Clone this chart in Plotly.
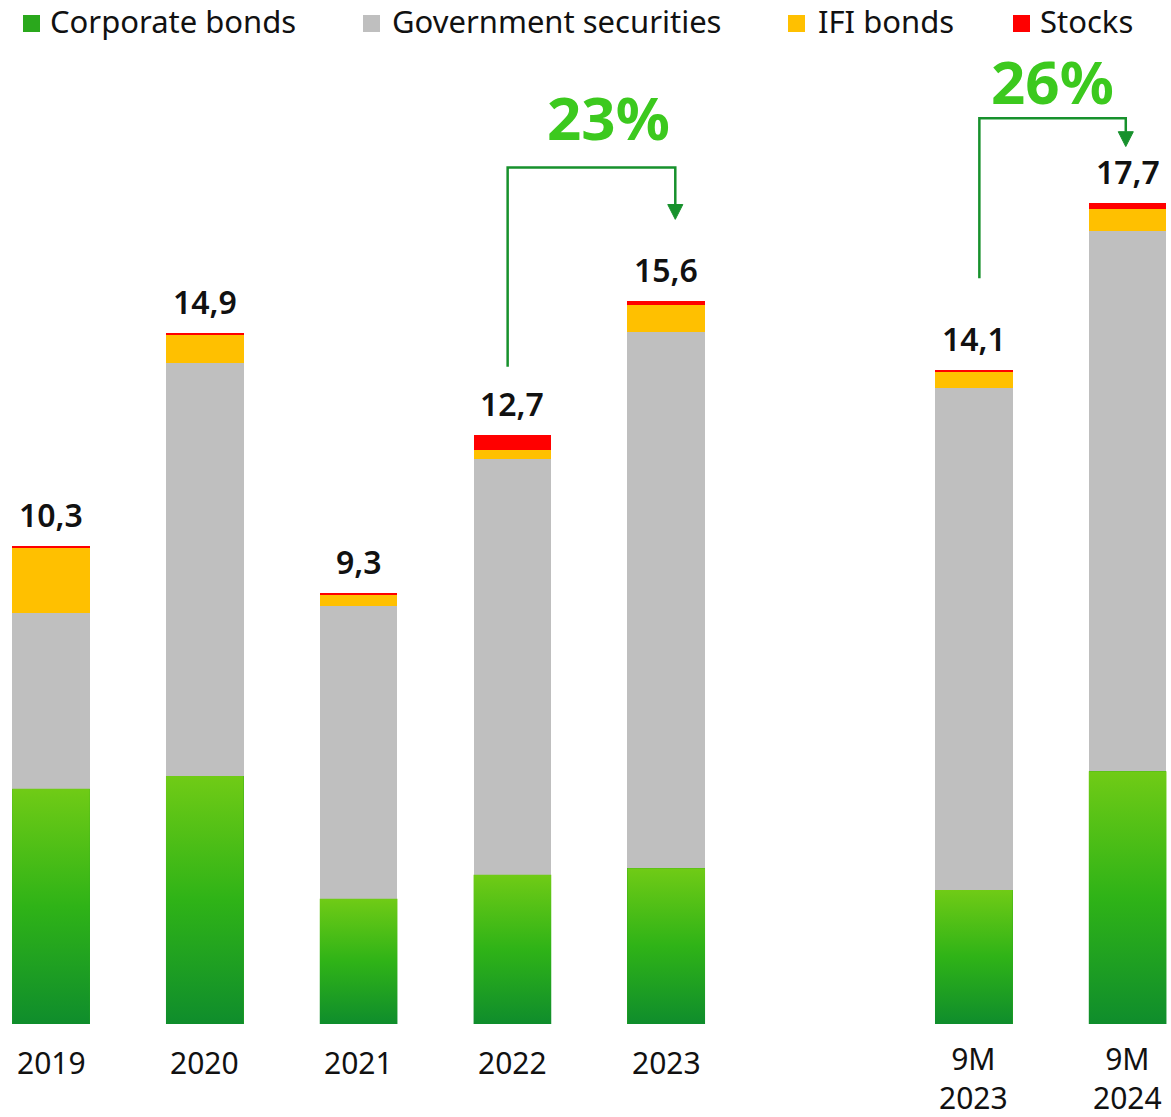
import plotly.graph_objects as go

# ---- data (trillion, stacked by instrument type) ----
categories = ["2019", "2020", "2021", "2022", "2023", "9M<br>2023", "9M<br>2024"]
positions = [0, 1, 2, 3, 4, 6, 7]
corporate_bonds = [5.07, 5.35, 2.70, 3.22, 3.36, 2.89, 5.45]
government_securities = [3.79, 8.90, 6.31, 8.97, 11.57, 10.83, 11.65]
ifi_bonds = [1.41, 0.62, 0.25, 0.19, 0.58, 0.34, 0.47]
stocks = [0.03, 0.03, 0.04, 0.32, 0.09, 0.04, 0.13]

series_names = ["Corporate bonds", "Government securities", "IFI bonds", "Stocks"]
series_colors = ["#2aa81c", "#bfbfbf", "#ffc000", "#ff0000"]
green_scale = [[0.0, "#0f8d2c"], [0.5, "#2fb317"], [1.0, "#70cb16"]]

# growth brackets: (from index, to index)
growth_pairs = [(3, 4), (5, 6)]

FONT = "Noto Sans"
BAR_W = 0.505

totals = [round(a + b + c + d, 2) for a, b, c, d in
          zip(corporate_bonds, government_securities, ifi_bonds, stocks)]

fig = go.Figure()
for name, vals, col in zip(series_names,
                           [corporate_bonds, government_securities, ifi_bonds, stocks],
                           series_colors):
    fig.add_trace(go.Bar(x=positions, y=vals, name=name, width=BAR_W,
                         marker=dict(color=col, line=dict(width=0)),
                         showlegend=False))

# gradient overlay for the corporate bond segments
for p, v in zip(positions, corporate_bonds):
    x0, x1 = p - BAR_W / 2, p + BAR_W / 2
    fig.add_trace(go.Scatter(
        x=[x0, x1, x1, x0, x0], y=[0, 0, v, v, 0], mode="lines",
        fill="toself", line=dict(width=0, color="rgba(0,0,0,0)"),
        fillgradient=dict(type="vertical", colorscale=green_scale),
        hoverinfo="skip", showlegend=False))

# total labels above each bar
for p, t in zip(positions, totals):
    fig.add_annotation(x=p, y=t, text=f"{t:.1f}".replace(".", ","),
                       showarrow=False, yanchor="bottom", yshift=8,
                       font=dict(family=FONT, size=32, color="#111111", weight=600))

# category labels under the bars
for p, cat in zip(positions, categories):
    n_lines = cat.count("<br>") + 1
    fig.add_annotation(x=p, y=0, text=cat, showarrow=False,
                       xanchor="center", yanchor="middle",
                       yshift=-(38 + (n_lines - 1) * 15.5),
                       font=dict(family=FONT, size=30, color="#111111"))

# growth brackets with arrows
line_col = "#17912c"
bracket_geom = [
    # left x, right x, top y, start y, arrow base y, arrow tip y, label x, label y
    (2.969, 4.059, 18.47, 14.17, 17.67, 17.35, 3.625, 19.55),
    (6.036, 6.988, 19.53, 16.08, 19.24, 18.92, 6.512, 20.33),
]
for (i0, i1), (xl, xr, yt, ys, yb, ytip, lx, ly) in zip(growth_pairs, bracket_geom):
    fig.add_shape(type="path", xref="x", yref="y",
                  path=f"M {xl},{ys} L {xl},{yt} L {xr},{yt} L {xr},{yb}",
                  line=dict(color=line_col, width=2.5))
    hw = 0.049
    fig.add_shape(type="path", xref="x", yref="y",
                  path=f"M {xr - hw},{yb} L {xr + hw},{yb} L {xr},{ytip} Z",
                  fillcolor=line_col, line=dict(color=line_col, width=1))
    growth = round((totals[i1] / totals[i0] - 1) * 100)
    fig.add_annotation(x=lx, y=ly, text=f"<b>{growth}%</b>", showarrow=False,
                       xanchor="center", yanchor="middle",
                       font=dict(family=FONT, size=60, color="#3cc91e"))

# legend row across the top
W, H_PLOT = 1171, 1024
legend_items = [(23, 48), (363, 390), (788, 816), (1013, 1038)]
for (sq_x, tx_x), name, col in zip(legend_items, series_names, series_colors):
    fig.add_shape(type="rect", xref="paper", yref="paper",
                  x0=sq_x / W, x1=(sq_x + 17) / W,
                  y0=1 - 32 / H_PLOT, y1=1 - 15 / H_PLOT,
                  fillcolor=col, line=dict(width=0))
    fig.add_annotation(xref="paper", yref="paper", x=tx_x / W, y=1 - 21 / H_PLOT,
                       text=name, showarrow=False, xanchor="left", yanchor="middle",
                       font=dict(family=FONT, size=31, color="#111111"))

fig.update_layout(
    barmode="stack",
    width=1171, height=1117, autosize=False,
    margin=dict(l=0, r=0, t=0, b=93, pad=0),
    paper_bgcolor="white", plot_bgcolor="white",
    font=dict(family=FONT, color="#111111"),
    xaxis=dict(range=[-0.3316, 7.282], tickmode="array", tickvals=positions,
               showticklabels=False, showgrid=False, zeroline=False,
               showline=False, ticks="", fixedrange=True, automargin=False),
    yaxis=dict(range=[0, 22.08], visible=False, fixedrange=True, automargin=False),
)

fig.write_html("out.html")
